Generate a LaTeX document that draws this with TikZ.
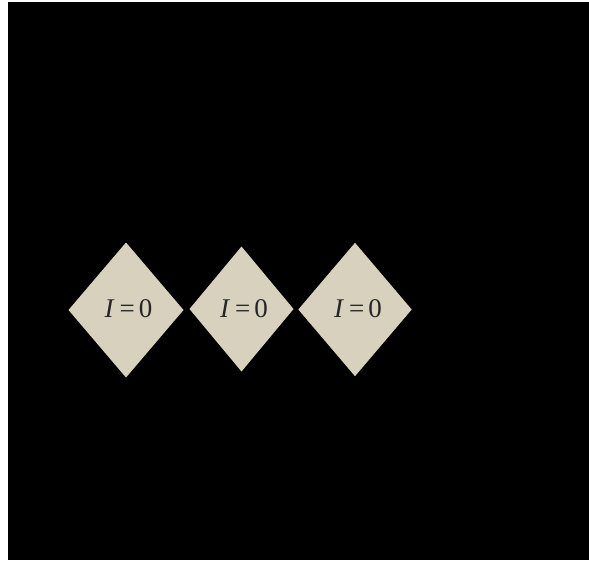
\documentclass[tikz,border=0pt]{standalone}
\usepackage{fontspec}
\setmainfont{Liberation Serif}
\definecolor{linen}{HTML}{D8D1BE}
\tikzset{
  tile/.style={fill=linen},
  lbl/.style={font=\fontsize{27}{30}\selectfont, inner sep=0pt, text=black!85}
}
\begin{document}
\begin{tikzpicture}[x=1pt,y=-1pt]
\useasboundingbox (0,0) rectangle (589,563);
\fill[white] (0,0) rectangle (589,563);
\fill[black] (8,2) rectangle (589,560);
% diamonds
\fill[tile] (126,242.5) -- (183.5,310) -- (126,377.5) -- (68.5,310) -- cycle;
\fill[tile] (241.5,246.5) -- (293.5,309) -- (241.5,371.5) -- (189.5,309) -- cycle;
\fill[tile] (355,242.8) -- (411.7,309.5) -- (355,376.2) -- (298.3,309.5) -- cycle;
\node[lbl] (t1) at (128.5,308.5) {\textit{I}\kern5pt=\kern4pt0};
\node[lbl] (t2) at (244,308.5) {\textit{I}\kern5pt=\kern4pt0};
\node[lbl] (t3) at (358,308.5) {\textit{I}\kern5pt=\kern4pt0};
\end{tikzpicture}
\end{document}
